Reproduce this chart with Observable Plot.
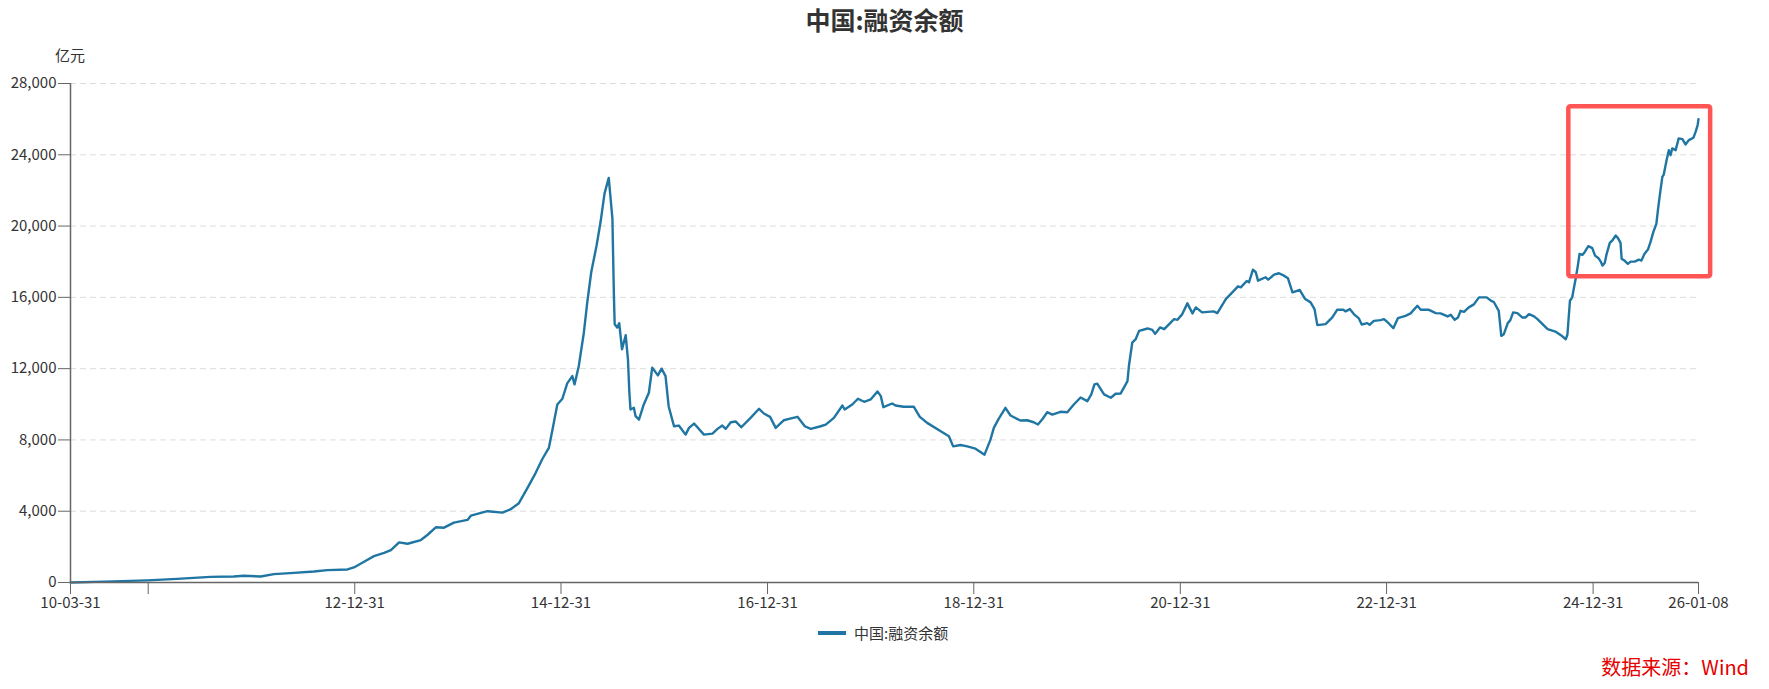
<!DOCTYPE html>
<html>
<head>
<meta charset="utf-8">
<script src="https://cdn.jsdelivr.net/npm/d3@7"></script>
<script src="https://cdn.jsdelivr.net/npm/@observablehq/plot@0.6"></script>
<style>
  html, body { margin: 0; padding: 0; background: #fff; }
  #wrap { position: relative; width: 1769px; height: 689px; font-family: "Noto Sans CJK SC", "Noto Sans", sans-serif; color: #333; }
  #title { position: absolute; top: 0; left: 0; width: 1769px; text-align: center; line-height: 38px; font-size: 25px; font-weight: bold; color: #333; }
  #unit { position: absolute; left: 55px; top: 46px; font-size: 15px; line-height: 18px; color: #333; }
  #chart { position: absolute; left: 0; top: 38px; }
  #legend { position: absolute; left: 818px; top: 624px; font-size: 15px; line-height: 18px; color: #333; display: flex; align-items: center; }
  #legend .sw { display: inline-block; width: 28px; height: 4px; margin-right: 8px; }
  #source { position: absolute; right: 20px; top: 655px; font-size: 20px; line-height: 24px; color: #e60000; }
</style>
</head>
<body>
<div id="wrap">
  <div id="title"></div>
  <div id="unit"></div>
  <div id="chart"></div>
  <div id="legend"><span class="sw"></span><span class="lt"></span></div>
  <div id="source"></div>
</div>
<script>
const chartTitle = "中国:融资余额";
const unitLabel = "亿元";
const seriesName = "中国:融资余额";
const sourceText = "数据来源：Wind";
const lineColor = "#2076a3";

const dates = [
"2010-03-31","2010-07-30","2010-12-27","2011-04-13","2011-08-08","2011-10-30","2011-12-04","2012-02-02","2012-03-20","2012-05-30",
"2012-08-09","2012-09-25","2012-12-05","2012-12-28","2013-02-02","2013-03-09","2013-04-14","2013-05-08","2013-06-06","2013-07-06",
"2013-08-22","2013-09-14","2013-10-14","2013-11-12","2013-12-17","2014-02-03","2014-02-15","2014-04-15","2014-06-07","2014-07-06",
"2014-08-04","2014-09-03","2014-10-02","2014-10-26","2014-11-18","2014-12-01","2014-12-18","2015-01-05","2015-01-22","2015-02-09",
"2015-02-17","2015-03-04","2015-03-22","2015-04-03","2015-04-17","2015-05-06","2015-05-20","2015-06-03","2015-06-18","2015-07-01",
"2015-07-06","2015-07-09","2015-07-18","2015-07-25","2015-08-04","2015-08-17","2015-08-25","2015-08-30","2015-09-03","2015-09-15",
"2015-09-21","2015-10-03","2015-10-20","2015-11-07","2015-11-19","2015-12-09","2015-12-22","2016-01-05","2016-01-16","2016-02-04",
"2016-02-21","2016-03-16","2016-03-28","2016-04-15","2016-05-20","2016-06-19","2016-07-07","2016-07-24","2016-08-05","2016-08-23",
"2016-09-10","2016-09-29","2016-11-01","2016-12-01","2016-12-18","2017-01-09","2017-01-29","2017-02-27","2017-03-17","2017-04-16",
"2017-05-12","2017-06-02","2017-07-07","2017-07-25","2017-08-23","2017-09-22","2017-09-30","2017-10-27","2017-11-16","2017-12-08",
"2017-12-31","2018-01-24","2018-02-05","2018-02-14","2018-03-17","2018-03-29","2018-04-27","2018-06-02","2018-06-23","2018-07-19",
"2018-09-05","2018-10-04","2018-10-19","2018-11-14","2018-12-08","2019-01-06","2019-02-07","2019-02-28","2019-03-12","2019-03-29",
"2019-04-22","2019-05-10","2019-06-14","2019-07-08","2019-07-31","2019-08-15","2019-08-30","2019-09-17","2019-10-05","2019-11-03",
"2019-11-27","2019-12-20","2020-01-13","2020-02-06","2020-02-20","2020-03-02","2020-03-12","2020-04-05","2020-04-29","2020-05-16",
"2020-06-03","2020-06-27","2020-07-02","2020-07-14","2020-07-26","2020-08-07","2020-09-06","2020-09-23","2020-10-03","2020-10-20",
"2020-11-04","2020-12-09","2020-12-21","2021-01-07","2021-01-25","2021-02-12","2021-02-24","2021-03-18","2021-04-28","2021-05-11",
"2021-06-10","2021-07-03","2021-07-23","2021-08-02","2021-08-23","2021-08-31","2021-09-14","2021-09-24","2021-10-02","2021-10-29",
"2021-11-07","2021-11-28","2021-12-15","2022-01-02","2022-01-16","2022-02-01","2022-02-27","2022-03-18","2022-04-06","2022-04-20",
"2022-04-30","2022-05-29","2022-06-22","2022-07-09","2022-07-31","2022-08-08","2022-08-23","2022-09-06","2022-09-24","2022-10-04",
"2022-10-24","2022-11-01","2022-11-16","2022-12-10","2022-12-22","2023-01-08","2023-01-24","2023-02-09","2023-03-08","2023-03-26",
"2023-04-19","2023-05-01","2023-05-30","2023-06-23","2023-07-10","2023-08-04","2023-08-15","2023-08-29","2023-09-10","2023-09-19",
"2023-10-01","2023-10-18","2023-11-05","2023-11-23","2023-12-20","2024-01-05","2024-01-14","2024-02-01","2024-02-10","2024-02-19",
"2024-03-04","2024-03-13","2024-03-23","2024-04-07","2024-04-24","2024-05-06","2024-05-18","2024-06-05","2024-06-17","2024-07-05",
"2024-07-23","2024-08-22","2024-09-08","2024-09-22","2024-09-25","2024-10-01","2024-10-10","2024-10-18","2024-10-30","2024-11-07",
"2024-11-13","2024-11-23","2024-12-01","2024-12-14","2024-12-28","2025-01-07","2025-01-19","2025-01-27","2025-02-02","2025-02-10",
"2025-02-17","2025-02-28","2025-03-09","2025-03-21","2025-03-29","2025-04-07","2025-04-11","2025-04-21","2025-05-03","2025-05-13",
"2025-05-27","2025-06-11","2025-06-20","2025-07-01","2025-07-13","2025-07-22","2025-08-01","2025-08-12","2025-08-18","2025-08-24",
"2025-09-02","2025-09-07","2025-09-17","2025-09-25","2025-10-01","2025-10-07","2025-10-19","2025-10-30","2025-11-12","2025-11-23",
"2025-12-05","2025-12-21","2025-12-29","2026-01-05","2026-01-08"
];

const values = [
0,50,120,203,316,338,375,338,468,541,
620,693,732,845,1161,1482,1668,1820,2254,2175,
2383,2665,3098,3076,3358,3510,3752,4000,3921,4113,
4451,5296,6141,6930,7550,8580,9989,10310,11172,11583,
11116,12147,14029,15719,17409,18908,20226,21821,22705,20412,
16282,14496,14310,14552,13088,13877,12524,10648,9707,9803,
9330,9144,9989,10648,12057,11623,12000,11583,9893,8767,
8806,8299,8676,8918,8299,8355,8620,8806,8620,8992,
9031,8710,9240,9747,9482,9296,8676,9105,9183,9296,
8767,8620,8767,8862,9240,9933,9707,9989,10310,10141,
10271,10722,10457,9837,10045,9933,9860,9860,9296,8958,
8485,8203,7640,7718,7640,7511,7172,8017,8676,9183,
9803,9369,9088,9105,8992,8862,9144,9555,9425,9578,
9555,9989,10383,10175,10553,11116,11155,10553,10367,10592,
10609,11302,12147,13465,13651,14119,14254,14175,13950,14310,
14215,14778,14738,15060,15663,15099,15437,15156,15212,15116,
15905,16282,16620,16564,16919,16846,17556,17409,16936,17127,
16992,17274,17353,17218,17071,16282,16412,15905,15719,15341,
14440,14496,14873,15302,15302,15212,15341,15060,14817,14479,
14553,14457,14682,14722,14778,14535,14271,14834,14964,15099,
15527,15302,15302,15116,15099,14930,15020,14738,14873,15246,
15190,15437,15606,16001,16001,15809,15753,15246,13837,13932,
14553,14722,15156,15116,14873,14873,15060,14930,14778,14496,
14215,14062,13877,13691,13651,13900,15809,16001,17032,17781,
18441,18384,18536,18874,18761,18344,18198,18007,17781,17933,
18441,19060,19190,19471,19325,19060,18159,18063,17877,18007,
18007,18119,18063,18441,18683,19099,19663,20131,20976,21725,
22761,22891,23697,24260,23978,24356,24260,24920,24880,24582,
24824,24958,25296,25669,26000
];

const xTickDates = ["2010-03-31","2010-12-31","2012-12-31","2014-12-31","2016-12-31","2018-12-31","2020-12-31","2022-12-31","2024-12-31","2026-01-08"];
const xTickLabels = ["10-03-31","","12-12-31","14-12-31","16-12-31","18-12-31","20-12-31","22-12-31","24-12-31","26-01-08"];
const yTicks = [0,4000,8000,12000,16000,20000,24000,28000];

// highlighted box (annotation) in data units
const highlightStart = ["2024-10-06"];
const highlightEnd = ["2026-02-20"];
const highlightLow = [17150];
const highlightHigh = [26700];

const parse = s => new Date(s + "T00:00:00Z");
const data = dates.map((d, i) => ({date: parse(d), value: values[i]}));
const xt = xTickDates.map(parse);
const labelMap = new Map(xt.map((d, i) => [+d, xTickLabels[i]]));
const highlight = highlightStart.map((s, i) => ({x1: parse(s), x2: parse(highlightEnd[i]), y1: highlightLow[i], y2: highlightHigh[i]}));

const FONT = '"Noto Sans CJK SC", "Noto Sans", sans-serif';

document.getElementById("title").textContent = chartTitle;
document.getElementById("unit").textContent = unitLabel;
document.querySelector("#legend .lt").textContent = seriesName;
document.querySelector("#legend .sw").style.background = lineColor;
document.getElementById("source").textContent = sourceText;

const chart = Plot.plot({
  width: 1769,
  height: 577,
  marginTop: 45,
  marginBottom: 33,
  marginLeft: 70,
  marginRight: 71,
  style: {fontFamily: FONT, fontSize: "15px", color: "#333", background: "transparent", overflow: "visible"},
  x: {type: "utc", domain: [xt[0], xt[xt.length - 1]]},
  y: {domain: [0, 28000]},
  marks: [
    Plot.gridY(yTicks, {stroke: "#dcdcdc", strokeOpacity: 1, strokeWidth: 1, strokeDasharray: "6,4"}),
    Plot.line(data, {x: "date", y: "value", stroke: lineColor, strokeWidth: 2.4, strokeLinejoin: "round"}),
    Plot.ruleY([0], {stroke: "#666", strokeWidth: 1.5}),
    Plot.ruleX([xt[0]], {stroke: "#666", strokeWidth: 1.5}),
    Plot.axisY(yTicks, {tickSize: 12, tickPadding: 2, tickFormat: d3.format(","), label: null, stroke: "#666", fill: "#333", fontSize: 15}),
    Plot.axisX(xt, {tickSize: 12, tickPadding: 3, tickFormat: d => labelMap.get(+d), label: null, stroke: "#666", fill: "#333", fontSize: 15}),
    Plot.rect(highlight, {x1: "x1", x2: "x2", y1: "y1", y2: "y2", fill: "none", stroke: "#ff5555", strokeWidth: 4.5, rx: 2})
  ]
});
document.getElementById("chart").appendChild(chart);
</script>
</body>
</html>
